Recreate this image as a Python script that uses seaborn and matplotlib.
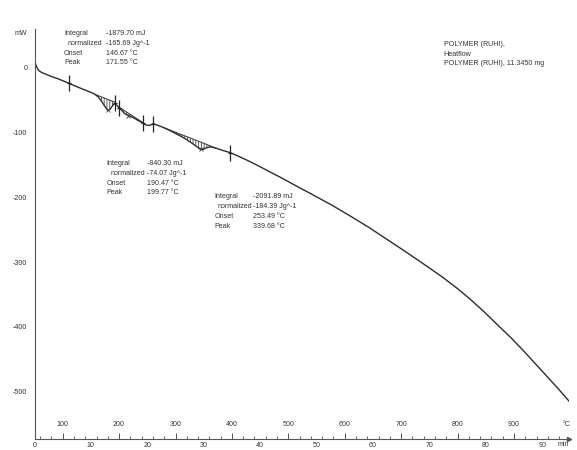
import numpy as np
import pandas as pd
import matplotlib
matplotlib.use("Agg")
import matplotlib.pyplot as plt
import seaborn as sns
from matplotlib.ticker import MultipleLocator, FixedLocator

# ---------------- data ----------------
time_min = [0.0, 0.15, 0.35, 0.7, 1.2, 2.0, 3.0, 4.0, 5.0, 6.1, 7.0, 8.0, 9.0, 10.0,
            10.7, 11.3, 11.9, 12.5, 13.0, 13.4, 13.8, 14.2, 14.6, 15.0, 15.5, 16.0,
            16.5, 17.0, 17.7, 18.5, 19.3, 19.8, 20.4, 21.0, 21.6, 22.8, 24.0, 25.0,
            26.0, 27.0, 28.0, 28.8, 29.4, 29.9, 30.5, 31.2, 32.3, 33.5, 34.7, 36.0,
            37.5, 39.6, 42.0, 44.0, 46.1, 49.0, 52.7, 56.0, 59.2, 62.5, 65.8, 69.0,
            72.3, 75.0, 77.2, 79.5, 82.1, 84.5, 86.7, 88.7, 90.6, 92.8, 94.8]
heatflow_mw = [4, 7, 2, -4, -7, -10, -13.5, -16.5, -20, -24, -27.5, -31, -34.5, -38,
               -41, -45, -52, -60, -66, -64, -59, -55, -58, -62, -66, -71,
               -73, -75, -78, -82, -86, -88.5, -89, -86.5, -88, -92, -97, -101.5,
               -106, -111, -117, -122, -126, -126, -123.5, -122, -124.5, -128, -131, -136,
               -142, -151, -162, -171, -181, -194.5, -212, -229, -246, -265, -284, -303,
               -323, -341, -357, -375, -397, -417, -437, -456, -474, -495, -515]

# integration baselines (start/end of each peak evaluation)
baseline_t = [[10.7, 14.2], [15.0, 19.3], [22.8, 32.3]]
baseline_mw = [[-41, -53], [-61, -85], [-92, -124.5]]

# integration limit markers and peak markers
limit_t = [6.1, 14.2, 15.0, 19.3, 21.0, 34.7]
limit_mw = [-24, -55, -62, -86, -86.5, -131]
peak_t = [13.0, 16.6, 29.6]
peak_mw = [-66, -74, -126]

time_ticks = [0, 10, 20, 30, 40, 50, 60, 70, 80, 90]
temp_ticks = [100, 200, 300, 400, 500, 600, 700, 800, 900]
mw_ticks = [0, -100, -200, -300, -400, -500]

result_labels = ["Integral", "normalized", "Onset", "Peak"]
result1 = ["-1879.70 mJ", "-165.69 Jg^-1", "146.67 °C", "171.55 °C"]
result2 = ["-840.30 mJ", "-74.07 Jg^-1", "190.47 °C", "199.77 °C"]
result3 = ["-2091.89 mJ", "-184.39 Jg^-1", "253.49 °C", "339.68 °C"]
sample_info = ["POLYMER (RUHI),", "Heatflow", "POLYMER (RUHI), 11.3450 mg"]

# ---------------- style ----------------
sns.set_theme(style="white")
plt.rcParams["font.family"] = ["Liberation Sans", "DejaVu Sans"]
plt.rcParams["axes.unicode_minus"] = False
plt.rcParams["hatch.linewidth"] = 0.6

W, H = 577, 450
fig = plt.figure(figsize=(W / 100, H / 100), dpi=100)
left_px, right_px, top_px, bottom_px = 34.5, 569.0, 29.5, 439.0
y_top, y_bottom = 59, -573
ax = fig.add_axes([left_px / W, 1 - bottom_px / H,
                   (right_px - left_px) / W, (bottom_px - top_px) / H])

FS = 5.1
TXT = "#333333"
AX_C = "#555555"

df = pd.DataFrame({"t": time_min, "mw": heatflow_mw})
sns.lineplot(data=df, x="t", y="mw", ax=ax, color="#2e2e2e", lw=1.0,
             sort=False, estimator=None)

# hatched peak areas and baselines
t_arr = np.array(time_min)
m_arr = np.array(heatflow_mw)
for bt, bm in zip(baseline_t, baseline_mw):
    sel = (t_arr > bt[0]) & (t_arr < bt[1])
    xs = [bt[0]] + list(t_arr[sel]) + [bt[1]]
    ys = [bm[0]] + list(m_arr[sel]) + [bm[1]]
    ax.fill(xs, ys, facecolor="none", edgecolor="#444444", hatch="|" * 6, lw=0)
    ax.plot(bt, bm, color="#333333", lw=0.7)

ax.plot(limit_t, limit_mw, ls="none", marker="|", ms=11, mew=0.9, color="#222222")
ax.plot(limit_t, limit_mw, ls="none", marker="_", ms=3.5, mew=0.9, color="#222222")
ax.plot(peak_t, peak_mw, ls="none", marker="x", ms=3, mew=0.6, color="#444444")

ax.set_xlim(0, (right_px - left_px) / 5.641)
ax.set_ylim(y_bottom, y_top)

for s in ["top", "right"]:
    ax.spines[s].set_visible(False)
for s in ["left", "bottom"]:
    ax.spines[s].set_color(AX_C)
    ax.spines[s].set_linewidth(0.8)

ax.xaxis.set_major_locator(FixedLocator(time_ticks))
ax.xaxis.set_minor_locator(MultipleLocator(2))
ax.yaxis.set_major_locator(FixedLocator(mw_ticks))
ax.yaxis.set_minor_locator(MultipleLocator(20))
ax.tick_params(axis="x", which="major", direction="inout", length=4, width=0.7,
               color=AX_C, pad=0.2, labelsize=FS, labelcolor=TXT)
ax.tick_params(axis="x", which="minor", direction="inout", length=3, width=0.6,
               color=AX_C)
ax.tick_params(axis="y", which="major", direction="out", length=3.5, width=0.7,
               color=AX_C, pad=1.5, labelsize=FS, labelcolor=TXT)
ax.tick_params(axis="y", which="minor", direction="inout", length=3, width=0.6,
               color=AX_C)
ax.set_xlabel("")
ax.set_ylabel("")

# temperature axis along the same baseline, labels above it
sec = ax.secondary_xaxis("bottom", functions=(lambda t: 10 * t + 50,
                                              lambda T: (T - 50) / 10))
sec.set_xticks(temp_ticks)
sec.xaxis.set_minor_locator(MultipleLocator(20))
sec.tick_params(axis="x", which="major", direction="in", length=4, width=0.7,
                color=AX_C, pad=-13.0, labelsize=FS, labelcolor=TXT)
sec.tick_params(axis="x", which="minor", direction="in", length=2.5, width=0.6,
                color=AX_C)
sec.spines["bottom"].set_visible(False)

# axis arrow
ax.plot([1.0], [0.0], marker=">", ms=3, color=AX_C, transform=ax.transAxes,
        clip_on=False)


def px(x, y):
    return x / W, 1 - y / H


fig.text(*px(20.5, 33.3), "mW", fontsize=FS, color=TXT, ha="center", va="center")
fig.text(*px(567, 424), "°C", fontsize=FS, color=TXT, ha="center", va="center")
fig.text(*px(563.5, 444.5), "min", fontsize=FS, color=TXT, ha="center", va="center")


def block(x_lab, x_val, ys, values):
    for i, (lab, val, y) in enumerate(zip(result_labels, values, ys)):
        xl = x_lab + (3.5 if i == 1 else 0)
        fig.text(*px(xl, y), lab, fontsize=FS, color=TXT, ha="left", va="center")
        fig.text(*px(x_val, y), val, fontsize=FS, color=TXT, ha="left", va="center")


block(64.0, 106.0, [33.3, 43.3, 53.3, 62.7], result1)
block(106.7, 147.0, [163.3, 173.3, 183.3, 192.7], result2)
block(214.5, 253.0, [196.7, 206.7, 216.3, 226.0], result3)

for line, y in zip(sample_info, [45.0, 54.3, 63.7]):
    fig.text(*px(443.5, y), line, fontsize=FS, color=TXT, ha="left", va="center")

fig.savefig("out.png", dpi=100)
